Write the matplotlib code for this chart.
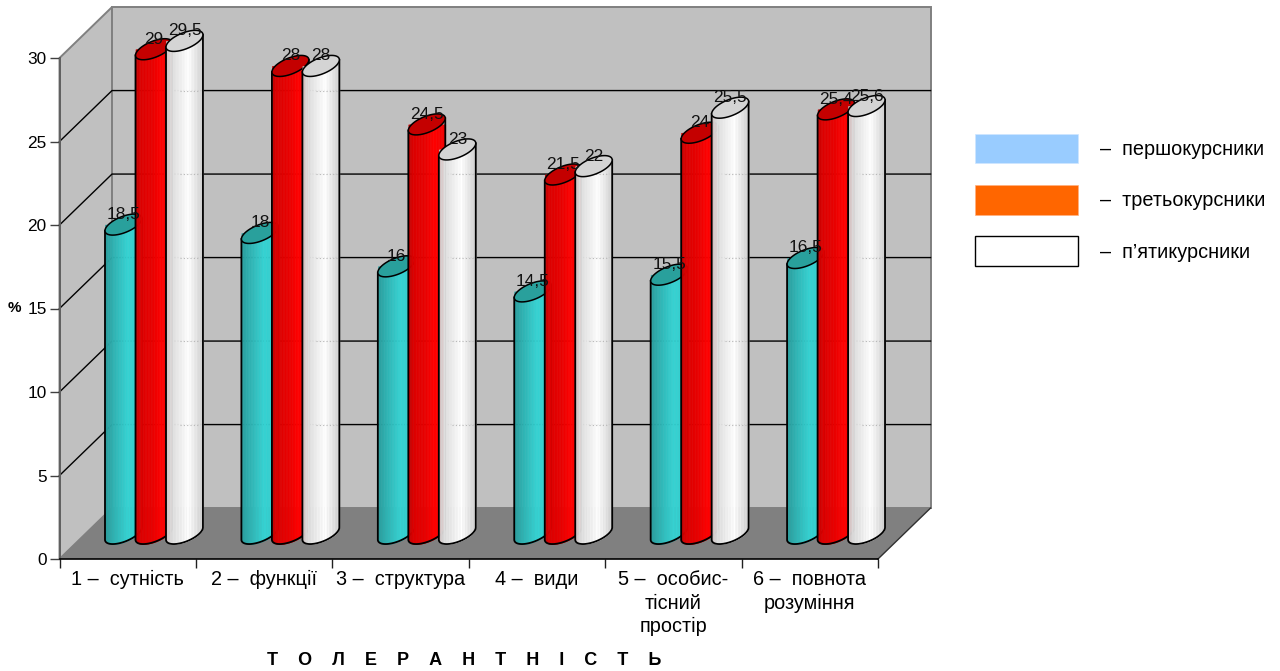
import numpy as np
import matplotlib
matplotlib.use("Agg")
import matplotlib.pyplot as plt
from matplotlib.patches import Patch, Polygon

CATEGORIES = ["1 –  сутність", "2 –  функції", "3 –  структура", "4 –  види",
              "5 –  особис-\nтісний\nпростір", "6 –  повнота\nрозуміння"]
FIRST_YEAR = [18.5, 18, 16, 14.5, 15.5, 16.5]
THIRD_YEAR = [29, 28, 24.5, 21.5, 24, 25.4]
FIFTH_YEAR = [29.5, 28, 23, 22, 25.5, 25.6]
LEGEND_LABELS = ["–  першокурсники", "–  третьокурсники", "–  п’ятикурсники"]
Y_TICKS = [0, 5, 10, 15, 20, 25, 30]

OUT = "out.png"
FONT = 12.4
BIG_FONT = 14.3

# depth of the box and size of a cylinder, in data units
DEPTH_X, DEPTH_Y = 0.385, 3.05
RAD_X, SKEW_X, RAD_Y = 0.11, 0.079, 0.63
STEP = 0.2236

# colour across a cylinder, left to right, and colour of its top
RAMPS = [
    ([0, 0.25, 0.6, 1], ["#2A9C9C", "#2FB4B4", "#35D2D2", "#33CCCC"], "#29A09C"),
    ([0, 0.12, 0.45, 0.7, 1], ["#C00000", "#DC0000", "#E80000", "#FF0000", "#F00000"], "#C40000"),
    ([0, 0.12, 0.6, 1], ["#CFC0C0", "#DCDCDC", "#FFFFFF", "#CFCFCF"], "#D4D4D4"),
]


def ramp(pos, stops, colors):
    rgb = np.array([matplotlib.colors.to_rgb(c) for c in colors])
    return [np.interp(pos, stops, rgb[:, k]) for k in range(3)]


def cylinder(ax, xc, value, style, z):
    stops, colors, top = style
    yc = value + DEPTH_Y / 2
    base = DEPTH_Y / 2
    ext = np.arctan2(SKEW_X, RAD_X)

    # lower half of the ellipse, from the left extreme to the right one
    t = np.linspace(ext - np.pi, ext, 60)
    lx = RAD_X * np.cos(t) + SKEW_X * np.sin(t)
    ly = RAD_Y * np.sin(t)

    edges = np.linspace(lx[0], lx[-1], 25)
    for i in range(len(edges) - 1):
        xs = edges[i:i + 2]
        col = ramp((i + 0.5) / 24, stops, colors)
        ax.fill_between(xc + xs + DEPTH_X / 2, base + np.interp(xs, lx, ly), yc,
                        color=col, lw=0.4, clip_on=False, zorder=z)

    # outline of the body
    ox = np.r_[lx[0], lx, lx[-1]] + xc + DEPTH_X / 2
    oy = np.r_[yc + ly[0], base + ly, yc + ly[-1]]
    ax.plot(ox, oy, color="black", lw=1.3, clip_on=False, zorder=z + 0.1)

    # top of the cylinder
    t = np.linspace(0, 2 * np.pi, 80)
    cx = RAD_X * np.cos(t) + SKEW_X * np.sin(t) + xc + DEPTH_X / 2
    cy = RAD_Y * np.sin(t) + yc
    ax.add_patch(Polygon(np.c_[cx, cy], closed=True, fc=top, ec="black", lw=1.1,
                         clip_on=False, zorder=z + 0.2))
    return lx[0] + xc + DEPTH_X / 2, lx[-1] + xc + DEPTH_X / 2


def main():
    plt.rcParams["font.family"] = ["Liberation Sans", "DejaVu Sans"]
    plt.rcParams["font.size"] = FONT

    fig = plt.figure(figsize=(12.8, 6.71), dpi=100)
    ax = fig.add_axes([59.5 / 1280, 112 / 671, 818.5 / 1280, 501 / 671])
    ax.set_xlim(0, 6)
    ax.set_ylim(0, 30)
    ax.patch.set_visible(False)

    # Box: walls and floor
    dx, dy = DEPTH_X, DEPTH_Y
    ax.add_patch(Polygon([(0, 0), (dx, dy), (dx, 30 + dy), (0, 30)], fc="#C0C0C0", ec="#808080",
                         lw=1.4, clip_on=False, zorder=1))
    ax.add_patch(Polygon([(dx, dy), (6 + dx, dy), (6 + dx, 30 + dy), (dx, 30 + dy)], fc="#C0C0C0",
                         ec="#808080", lw=1.4, clip_on=False, zorder=1))
    ax.add_patch(Polygon([(0, 0), (6, 0), (6 + dx, dy), (dx, dy)], fc="#808080", ec="none",
                         clip_on=False, zorder=2))
    ax.plot([6, 6 + dx], [0, dy], color="#303030", lw=1.0, clip_on=False, zorder=3)

    # Grid lines on both walls
    for v in Y_TICKS[1:-1]:
        ax.plot([0, dx, 6 + dx], [v, v + dy, v + dy], color="black", lw=1.0, clip_on=False, zorder=3)

    # Cylinders
    series = [FIRST_YEAR, THIRD_YEAR, FIFTH_YEAR]
    for i in range(len(CATEGORIES)):
        for s, values in enumerate(series):
            xc = i + 0.5 + (s - 1) * STEP
            left, right = cylinder(ax, xc, values[i], RAMPS[s], 5 + i + s * 0.3)
            # the grid shows faintly through the white bars
            if s == 2:
                for v in Y_TICKS[1:-1]:
                    if v + dy < values[i] + dy / 2:
                        ax.plot([left + 0.1, right - 0.02], [v + dy, v + dy], color="#B8B8B8", lw=0.8,
                                ls=(0, (1, 2)), clip_on=False, zorder=5 + i + s * 0.3 + 0.05)

    for i in range(len(CATEGORIES)):
        for s, values in enumerate(series):
            xc = i + 0.5 + (s - 1) * STEP + dx / 2
            label = f"{values[i]:g}".replace(".", ",")
            ax.annotate(label, (xc, values[i] + dy / 2), xytext=(0, 7.2), textcoords="offset points",
                        ha="center", va="center", fontsize=FONT, color="#111111",
                        annotation_clip=False, zorder=20)

    # Axes
    for side in ["top", "right"]:
        ax.spines[side].set_visible(False)
    ax.spines["left"].set_color("#606060")
    ax.spines["left"].set_linewidth(1.4)
    ax.spines["bottom"].set_linewidth(1.2)
    ax.spines["left"].set_zorder(4)
    ax.spines["bottom"].set_zorder(4)

    ax.set_yticks(Y_TICKS)
    ax.tick_params(axis="y", length=7.2, width=1.0, color="#404040", pad=2, labelsize=FONT)
    ax.set_xticks(range(7))
    ax.set_xticklabels([])
    ax.set_xticks(np.arange(6) + 0.5, CATEGORIES, minor=True, linespacing=1.3)
    ax.tick_params(axis="x", which="major", length=6.5, width=1.0, color="#202020")
    ax.tick_params(axis="x", which="minor", length=0, pad=8, labelsize=BIG_FONT)

    ax.set_xlabel("Т    О    Л    Е    Р    А    Н    Т    Н    І    С    Т    Ь", fontweight="bold", fontsize=13)
    ax.xaxis.set_label_coords(0.495, -0.186)
    ax.set_ylabel("%", rotation=0, fontweight="bold", fontsize=10.9, ha="center", va="center")
    ax.yaxis.set_label_coords(-0.055, 0.5)

    # Legend uses the swatch colours of the original, not the bars
    handles = [
        Patch(fc="#99CCFF", ec="#CFE6FF", lw=0.5),
        Patch(fc="#FF6600", ec="#FFB080", lw=0.5),
        Patch(fc="white", ec="black", lw=1.0),
    ]
    fig.legend(handles, LEGEND_LABELS, loc="upper left", bbox_to_anchor=(975 / 1280, 1 - 134 / 671),
               bbox_transform=fig.transFigure, frameon=False, fontsize=BIG_FONT, borderpad=0,
               borderaxespad=0, handlelength=5.2, handleheight=1.9, handletextpad=1.1, labelspacing=1.1)

    fig.savefig(OUT, dpi=100)


if __name__ == "__main__":
    main()
